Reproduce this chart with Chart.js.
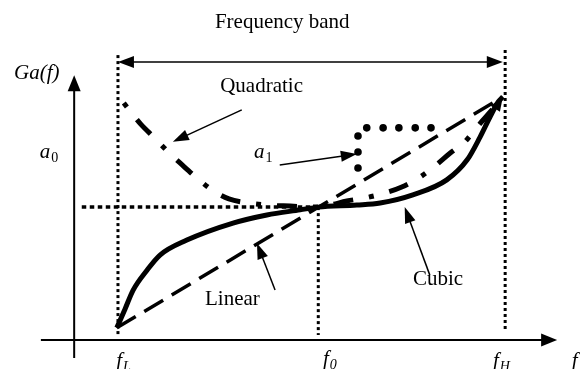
<!DOCTYPE html>
<html>
<head>
<meta charset="utf-8">
<script src="https://cdn.jsdelivr.net/npm/chart.js@4/dist/chart.umd.min.js"></script>
<style>
  html, body { margin: 0; padding: 0; background: #fff; }
  #wrap { width: 584px; height: 369px; }
</style>
</head>
<body>
<div id="wrap"><canvas id="chart" width="584" height="369"></canvas></div>
<script>
// frequency marks (x units) and the gain at f0
const fL = 20.2, f0 = 54.5, fH = 86.5;
const gainF0 = 39.1;

// Cubic (solid)
const cubicX = [20.0, 21.4, 22.8, 25.2, 27.4, 32.0, 39.9, 45.7, 51.4, 54.5, 61.1, 65.1, 70.7, 76.5, 80.0, 82.2, 83.9, 85.3, 86.1];
const cubicY = [3.6, 9.1, 14.7, 20.6, 25.0, 29.4, 34.4, 36.8, 38.3, 39.1, 39.7, 40.3, 42.7, 47.1, 53.0, 59.7, 65.6, 70.0, 71.5];

// Quadratic (dash-dot)
const quadX = [21.2, 24.1, 26.5, 28.8, 31.2, 33.7, 36.5, 39.2, 42.5, 45.7, 49.7, 54.5, 56.5, 59.4, 62.5, 65.8, 68.8, 71.9, 74.5, 77.1, 79.6, 81.8, 83.9, 86.1];
const quadY = [69.7, 63.5, 59.4, 55.3, 51.5, 47.7, 43.9, 41.5, 40.3, 39.7, 39.4, 39.1, 39.7, 40.9, 41.8, 43.2, 45.0, 47.9, 51.2, 55.0, 58.3, 62.9, 67.0, 71.5];

// Linear (dashed)
const linX = [20.0, 86.1];
const linY = [3.6, 71.5];

// a1 dots
const a1X = [61.3, 61.3, 61.3, 62.8, 65.6, 68.3, 71.1, 73.8];
const a1Y = [50.6, 55.3, 60.0, 62.4, 62.4, 62.4, 62.4, 62.4];

// dotted guides: [x1, y1, x2, y2]
const guides = [
  [fL, 83.8, fL, 1.5],
  [f0, gainF0, f0, 1.5],
  [fH, 85.3, fH, 3.0],
  [14.0, gainF0, f0, gainF0]
];

// axes and pointer arrows: [x1, y1, x2, y2]
const axes = [
  [12.7, -5.3, 12.7, 77.9],
  [7.0, 0, 95.4, 0]
];
const pointers = [
  [41.4, 67.7, 29.6, 58.3],   // Quadratic
  [47.9, 51.5, 61.1, 54.7],   // a1
  [47.1, 14.7, 44.0, 28.5],   // Linear
  [73.6, 19.1, 69.3, 39.1]    // Cubic
];
const band = [20.2, 81.8, 86.1, 81.8];

// labels: text, subscript, x, y (baseline), italic, subscript italic
const labels = [
  ["Frequency band", "", 36.8, 91.8, false, false],
  ["Quadratic", "", 37.7, 73.0, false, false],
  ["Ga(f)", "", 2.4, 76.8, true, false],
  ["a", "0", 6.8, 53.5, true, false],
  ["a", "1", 43.5, 53.5, true, false],
  ["Linear", "", 35.1, 10.3, false, false],
  ["Cubic", "", 70.7, 16.2, false, false],
  ["f", "L", 19.9, -7.9, true, true],
  ["f", "0", 55.3, -7.3, true, true],
  ["f", "H", 84.4, -7.9, true, true],
  ["f", "", 97.9, -7.9, true, false]
];

const pts = (xs, ys) => xs.map((v, i) => ({ x: v, y: ys[i] }));

function head(ctx, x1, y1, x2, y2, len, wid) {
  const a = Math.atan2(y2 - y1, x2 - x1);
  ctx.beginPath();
  ctx.moveTo(x2, y2);
  ctx.lineTo(x2 - len * Math.cos(a) + wid / 2 * Math.sin(a), y2 - len * Math.sin(a) - wid / 2 * Math.cos(a));
  ctx.lineTo(x2 - len * Math.cos(a) - wid / 2 * Math.sin(a), y2 - len * Math.sin(a) + wid / 2 * Math.cos(a));
  ctx.closePath();
  ctx.fill();
}

function arrow(ctx, x1, y1, x2, y2, lw, len, wid, both) {
  const a = Math.atan2(y2 - y1, x2 - x1);
  const sx = both ? x1 + (len - 2) * Math.cos(a) : x1;
  const sy = both ? y1 + (len - 2) * Math.sin(a) : y1;
  ctx.lineWidth = lw;
  ctx.beginPath();
  ctx.moveTo(sx, sy);
  ctx.lineTo(x2 - (len - 2) * Math.cos(a), y2 - (len - 2) * Math.sin(a));
  ctx.stroke();
  head(ctx, x1, y1, x2, y2, len, wid);
  if (both) head(ctx, x2, y2, x1, y1, len, wid);
}

const overlay = {
  id: "overlay",
  afterDatasetsDraw(chart) {
    const { ctx, scales: { x, y } } = chart;
    const px = v => x.getPixelForValue(v);
    const py = v => y.getPixelForValue(v);
    ctx.save();
    ctx.fillStyle = "#000";
    ctx.strokeStyle = "#000";

    axes.forEach(a => arrow(ctx, px(a[0]), py(a[1]), px(a[2]), py(a[3]), 2, 16, 13, false));
    pointers.forEach(a => arrow(ctx, px(a[0]), py(a[1]), px(a[2]), py(a[3]), 1.5, 16, 11, false));
    arrow(ctx, px(band[0]), py(band[1]), px(band[2]), py(band[3]), 1.5, 16, 12, true);

    // arrowhead where the cubic ends
    const n = cubicX.length;
    head(ctx, px(cubicX[n - 3]), py(cubicY[n - 3]), px(cubicX[n - 1]), py(cubicY[n - 1]), 14, 11);

    ctx.textBaseline = "alphabetic";
    ctx.textAlign = "left";
    labels.forEach(l => {
      const [text, sub, lx, ly, it, subIt] = l;
      ctx.font = (it ? "italic " : "") + '21px "Liberation Serif"';
      const X = px(lx), Y = py(ly);
      ctx.fillText(text, X, Y);
      if (sub) {
        const w = ctx.measureText(text).width;
        ctx.font = (subIt ? "italic " : "") + '14px "Liberation Serif"';
        ctx.fillText(sub, X + w + 1, Y + 4);
      }
    });
    ctx.restore();
  }
};

const lineStyle = { showLine: true, pointRadius: 0, borderColor: "#000", backgroundColor: "#000", fill: false };

const datasets = [
  Object.assign({ data: pts(cubicX, cubicY), borderWidth: 5, cubicInterpolationMode: "monotone" }, lineStyle),
  Object.assign({ data: pts(quadX, quadY), borderWidth: 5, borderDash: [5, 16, 20, 16], cubicInterpolationMode: "monotone" }, lineStyle),
  Object.assign({ data: pts(linX, linY), borderWidth: 3.5, borderDash: [22, 10] }, lineStyle),
  { data: pts(a1X, a1Y), showLine: false, pointRadius: 3.8, pointBorderWidth: 0, backgroundColor: "#000", borderColor: "#000" }
];
guides.forEach((g, i) => {
  datasets.push(Object.assign({
    data: [{ x: g[0], y: g[1] }, { x: g[2], y: g[3] }],
    borderWidth: i === 3 ? 3.5 : 3,
    borderDash: i === 3 ? [4.5, 3.5] : [3, 3]
  }, lineStyle));
});

new Chart(document.getElementById("chart"), {
  type: "scatter",
  data: { datasets: datasets },
  options: {
    responsive: false,
    animation: false,
    layout: { padding: 0, autoPadding: false },
    plugins: { legend: { display: false }, tooltip: { enabled: false } },
    scales: {
      x: { type: "linear", display: false, min: 0, max: 100 },
      y: { type: "linear", display: false, min: -8.5, max: 100 }
    }
  },
  plugins: [overlay]
});
</script>
</body>
</html>
